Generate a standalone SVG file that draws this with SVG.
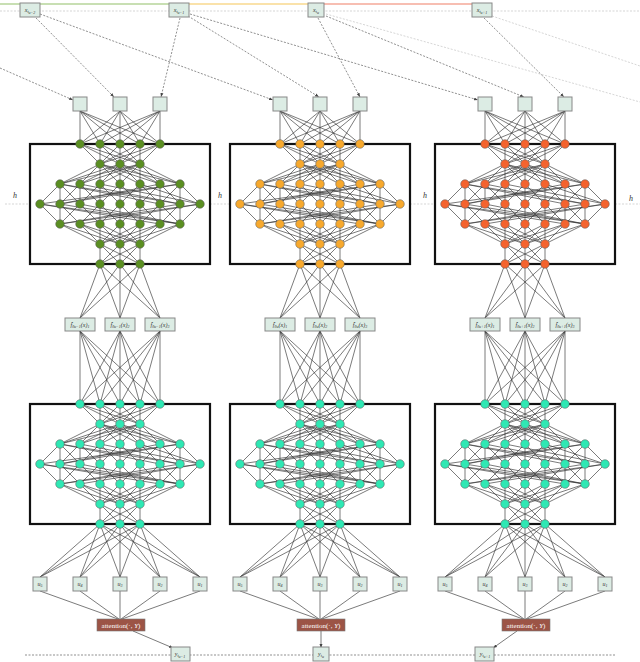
<svg xmlns="http://www.w3.org/2000/svg" xmlns:xlink="http://www.w3.org/1999/xlink" width="640" height="662" viewBox="0 0 640 662">
<style>
.e{stroke:#333;stroke-width:0.65;fill:none}
.n circle{fill:currentColor;stroke:#555;stroke-width:0.5}
.bx{fill:#dcece4;stroke:#888;stroke-width:1}
.frame{fill:none;stroke:#111;stroke-width:2.2}
.dsh{stroke:#444;stroke-width:0.6;stroke-dasharray:2,1.5;fill:none}
.lg{stroke:#bbb;stroke-width:0.6;stroke-dasharray:2,1.5;fill:none}
.t{font-family:"Liberation Serif",serif;font-style:italic;font-size:6px;fill:#333;text-anchor:middle}
.h{font-family:"Liberation Serif",serif;font-style:italic;font-size:8px;fill:#333;text-anchor:middle}
.ts{font-family:"Liberation Serif",serif;font-size:4px}
.at{font-family:"Liberation Serif",serif;font-size:7px;fill:#fff;text-anchor:middle}
</style>
<defs>
<marker id="ar" markerWidth="4" markerHeight="4" refX="4" refY="2" orient="auto" markerUnits="userSpaceOnUse"><path d="M0,0.5L4,2L0,3.5z" fill="#444"/></marker>
<g id="edges">
<path class="e" d="M80 144L100 164M80 144L120 164M80 144L140 164M100 144L100 164M100 144L120 164M100 144L140 164M120 144L100 164M120 144L120 164M120 144L140 164M140 144L100 164M140 144L120 164M140 144L140 164M160 144L100 164M160 144L120 164M160 144L140 164
M100 164L60 184M100 164L80 184M100 164L100 184M100 164L120 184M100 164L140 184M100 164L160 184M100 164L180 184M120 164L60 184M120 164L80 184M120 164L100 184M120 164L120 184M120 164L140 184M120 164L160 184M120 164L180 184M140 164L60 184M140 164L80 184M140 164L100 184M140 164L120 184M140 164L140 184M140 164L160 184M140 164L180 184
M60 184L40 204M60 184L60 224M60 184L80 204M80 184L60 204M80 184L80 204M80 184L100 204M100 184L80 204M100 184L100 204M100 184L120 204M120 184L100 204M120 184L120 204M120 184L140 204M140 184L120 204M140 184L140 204M140 184L160 204M160 184L140 204M160 184L160 204M160 184L180 204M180 184L160 204M180 184L180 224M180 184L200 204M60 184L160 204M60 184L180 204M80 184L180 204M160 184L60 204M180 184L60 204M180 184L40 204M140 184L200 204M100 184L200 204
M40 204L60 224M60 204L80 224M80 204L60 224M80 204L100 224M100 204L80 224M100 204L100 224M100 204L120 224M120 204L100 224M120 204L120 224M120 204L140 224M140 204L120 224M140 204L140 224M140 204L160 224M160 204L140 224M160 204L160 224M160 204L180 224M180 204L160 224M200 204L180 224M40 204L160 224M40 204L180 224M60 204L180 224M200 204L80 224M180 204L60 224M200 204L60 224M80 204L180 224
M60 224L100 244M60 224L120 244M80 224L100 244M80 224L120 244M80 224L140 244M100 224L100 244M100 224L120 244M100 224L140 244M120 224L100 244M120 224L120 244M120 224L140 244M140 224L100 244M140 224L120 244M140 224L140 244M160 224L100 244M160 224L120 244M160 224L140 244M180 224L120 244M180 224L140 244
M100 244L100 264M100 244L120 264M100 244L140 264M120 244L100 264M120 244L120 264M120 244L140 264M140 244L100 264M140 244L120 264M140 244L140 264"/>
</g>
<g id="nodes" class="n">
<circle cx="80" cy="144" r="4.3"/><circle cx="100" cy="144" r="4.3"/><circle cx="120" cy="144" r="4.3"/><circle cx="140" cy="144" r="4.3"/><circle cx="160" cy="144" r="4.3"/>
<circle cx="100" cy="164" r="4.3"/><circle cx="120" cy="164" r="4.3"/><circle cx="140" cy="164" r="4.3"/>
<circle cx="60" cy="184" r="4.3"/><circle cx="80" cy="184" r="4.3"/><circle cx="100" cy="184" r="4.3"/><circle cx="120" cy="184" r="4.3"/><circle cx="140" cy="184" r="4.3"/><circle cx="160" cy="184" r="4.3"/><circle cx="180" cy="184" r="4.3"/>
<circle cx="40" cy="204" r="4.3"/><circle cx="60" cy="204" r="4.3"/><circle cx="80" cy="204" r="4.3"/><circle cx="100" cy="204" r="4.3"/><circle cx="120" cy="204" r="4.3"/><circle cx="140" cy="204" r="4.3"/><circle cx="160" cy="204" r="4.3"/><circle cx="180" cy="204" r="4.3"/><circle cx="200" cy="204" r="4.3"/>
<circle cx="60" cy="224" r="4.3"/><circle cx="80" cy="224" r="4.3"/><circle cx="100" cy="224" r="4.3"/><circle cx="120" cy="224" r="4.3"/><circle cx="140" cy="224" r="4.3"/><circle cx="160" cy="224" r="4.3"/><circle cx="180" cy="224" r="4.3"/>
<circle cx="100" cy="244" r="4.3"/><circle cx="120" cy="244" r="4.3"/><circle cx="140" cy="244" r="4.3"/>
<circle cx="100" cy="264" r="4.3"/><circle cx="120" cy="264" r="4.3"/><circle cx="140" cy="264" r="4.3"/>
</g>
<g id="col">
<path class="e" d="M80 111L80 144M80 111L100 144M80 111L120 144M80 111L140 144M80 111L160 144M120 111L80 144M120 111L100 144M120 111L120 144M120 111L140 144M120 111L160 144M160 111L80 144M160 111L100 144M160 111L120 144M160 111L140 144M160 111L160 144
M100 264L80 318M100 264L120 318M100 264L160 318M120 264L80 318M120 264L120 318M120 264L160 318M140 264L80 318M140 264L120 318M140 264L160 318
M80 331L80 404M80 331L100 404M80 331L120 404M80 331L140 404M80 331L160 404M120 331L80 404M120 331L100 404M120 331L120 404M120 331L140 404M120 331L160 404M160 331L80 404M160 331L100 404M160 331L120 404M160 331L140 404M160 331L160 404
M100 524L40 577M100 524L80 577M100 524L120 577M100 524L160 577M100 524L200 577M120 524L40 577M120 524L80 577M120 524L120 577M120 524L160 577M120 524L200 577M140 524L40 577M140 524L80 577M140 524L120 577M140 524L160 577M140 524L200 577
M40 591L118 619M80 591L119 619M120 591L120 619M160 591L121 619M200 591L122 619"/>
<use href="#edges" xlink:href="#edges"/>
<use href="#edges" xlink:href="#edges" y="260"/>
<rect class="frame" x="30" y="144" width="180" height="120"/>
<rect class="frame" x="30" y="404" width="180" height="120"/>
<rect class="bx" x="73" y="97" width="14" height="14"/><rect class="bx" x="113" y="97" width="14" height="14"/><rect class="bx" x="153" y="97" width="14" height="14"/>
<rect class="bx" x="33" y="577" width="14" height="14"/><rect class="bx" x="73" y="577" width="14" height="14"/><rect class="bx" x="113" y="577" width="14" height="14"/><rect class="bx" x="153" y="577" width="14" height="14"/><rect class="bx" x="193" y="577" width="14" height="14"/>
<text class="t" x="40" y="586">u<tspan class="ts" dy="1">5</tspan></text>
<text class="t" x="80" y="586">u<tspan class="ts" dy="1">4</tspan></text>
<text class="t" x="120" y="586">u<tspan class="ts" dy="1">3</tspan></text>
<text class="t" x="160" y="586">u<tspan class="ts" dy="1">2</tspan></text>
<text class="t" x="200" y="586">u<tspan class="ts" dy="1">1</tspan></text>
<rect x="97" y="619" width="48" height="12" fill="#9c5446" stroke="#777" stroke-width="0.6"/>
<text class="at" x="121" y="628">attention(·, <tspan font-style="italic">Y</tspan>)</text>
</g>
</defs>

<g id="top-line">
<line x1="0" y1="4" x2="175" y2="4" stroke="#b6d49a" stroke-width="1.5"/>
<line x1="185" y1="4" x2="312" y2="4" stroke="#f8d98e" stroke-width="1.5"/>
<line x1="322" y1="4" x2="478" y2="4" stroke="#f4a898" stroke-width="1.5"/>
<line x1="0" y1="11" x2="640" y2="11" class="lg"/>
</g>

<g id="connectors">
<path class="dsh" marker-end="url(#ar)" d="M0 68L73 100"/>
<path class="dsh" marker-end="url(#ar)" d="M36 18L114 97"/>
<path class="dsh" marker-end="url(#ar)" d="M40 14L273 100"/>
<path class="dsh" marker-end="url(#ar)" d="M180 18L161 97"/>
<path class="dsh" marker-end="url(#ar)" d="M188 16L319 97"/>
<path class="dsh" marker-end="url(#ar)" d="M190 14L478 100"/>
<path class="dsh" marker-end="url(#ar)" d="M318 18L360 97"/>
<path class="dsh" marker-end="url(#ar)" d="M326 16L524 97"/>
<path class="dsh" marker-end="url(#ar)" d="M484 18L564 97"/>
<path class="lg" d="M326 14L640 102"/>
<path class="lg" d="M492 16L640 66"/>
<path class="lg" d="M5 204L30 204M210 204L230 204M410 204L435 204M615 204L640 204"/>
<path class="dsh" d="M25 655L615 655"/>
<path class="e" marker-end="url(#ar)" d="M133 631L173 648"/>
<path class="e" marker-end="url(#ar)" d="M321 631L321 648"/>
<path class="e" marker-end="url(#ar)" d="M517 631L493 648"/>
</g>

<g id="col1"><use href="#col" xlink:href="#col"/><use href="#nodes" xlink:href="#nodes" color="#5b8f22"/><use href="#nodes" xlink:href="#nodes" y="260" color="#2fe8b4"/></g>
<g id="col2" transform="translate(200,0)"><use href="#col" xlink:href="#col"/><use href="#nodes" xlink:href="#nodes" color="#f7a92e"/><use href="#nodes" xlink:href="#nodes" y="260" color="#2fe8b4"/></g>
<g id="col3" transform="translate(405,0)"><use href="#col" xlink:href="#col"/><use href="#nodes" xlink:href="#nodes" color="#f4632e"/><use href="#nodes" xlink:href="#nodes" y="260" color="#2fe8b4"/></g>

<g id="xnodes">
<rect class="bx" x="20" y="3" width="20" height="14"/><text class="t" x="30" y="12">x<tspan class="ts" dy="1">t<tspan dy="1">u−2</tspan></tspan></text>
<rect class="bx" x="169" y="3" width="20" height="14"/><text class="t" x="179" y="12">x<tspan class="ts" dy="1">t<tspan dy="1">u−1</tspan></tspan></text>
<rect class="bx" x="308" y="3" width="16" height="14"/><text class="t" x="316" y="12">x<tspan class="ts" dy="1">t<tspan dy="1">u</tspan></tspan></text>
<rect class="bx" x="472" y="3" width="20" height="14"/><text class="t" x="482" y="12">x<tspan class="ts" dy="1">t<tspan dy="1">u+1</tspan></tspan></text>
</g>

<g id="fnodes">
<rect class="bx" x="65" y="318" width="30" height="13"/><text class="t" x="80" y="327">f̂<tspan class="ts" dy="1">θu−1</tspan><tspan dy="-1">(x)</tspan><tspan class="ts" dy="1">1</tspan></text>
<rect class="bx" x="105" y="318" width="30" height="13"/><text class="t" x="120" y="327">f̂<tspan class="ts" dy="1">θu−1</tspan><tspan dy="-1">(x)</tspan><tspan class="ts" dy="1">2</tspan></text>
<rect class="bx" x="145" y="318" width="30" height="13"/><text class="t" x="160" y="327">f̂<tspan class="ts" dy="1">θu−1</tspan><tspan dy="-1">(x)</tspan><tspan class="ts" dy="1">3</tspan></text>
<rect class="bx" x="265" y="318" width="30" height="13"/><text class="t" x="280" y="327">f̂<tspan class="ts" dy="1">θu</tspan><tspan dy="-1">(x)</tspan><tspan class="ts" dy="1">1</tspan></text>
<rect class="bx" x="305" y="318" width="30" height="13"/><text class="t" x="320" y="327">f̂<tspan class="ts" dy="1">θu</tspan><tspan dy="-1">(x)</tspan><tspan class="ts" dy="1">2</tspan></text>
<rect class="bx" x="345" y="318" width="30" height="13"/><text class="t" x="360" y="327">f̂<tspan class="ts" dy="1">θu</tspan><tspan dy="-1">(x)</tspan><tspan class="ts" dy="1">3</tspan></text>
<rect class="bx" x="470" y="318" width="30" height="13"/><text class="t" x="485" y="327">f̂<tspan class="ts" dy="1">θu+1</tspan><tspan dy="-1">(x)</tspan><tspan class="ts" dy="1">1</tspan></text>
<rect class="bx" x="510" y="318" width="30" height="13"/><text class="t" x="525" y="327">f̂<tspan class="ts" dy="1">θu+1</tspan><tspan dy="-1">(x)</tspan><tspan class="ts" dy="1">2</tspan></text>
<rect class="bx" x="550" y="318" width="30" height="13"/><text class="t" x="565" y="327">f̂<tspan class="ts" dy="1">θu+1</tspan><tspan dy="-1">(x)</tspan><tspan class="ts" dy="1">3</tspan></text>
</g>

<g id="ynodes">
<rect class="bx" x="171" y="647" width="19" height="14"/><text class="t" x="180" y="656">y<tspan class="ts" dy="1">t<tspan dy="1">u−1</tspan></tspan></text>
<rect class="bx" x="313" y="647" width="16" height="14"/><text class="t" x="321" y="656">y<tspan class="ts" dy="1">t<tspan dy="1">u</tspan></tspan></text>
<rect class="bx" x="475" y="647" width="19" height="14"/><text class="t" x="485" y="656">y<tspan class="ts" dy="1">t<tspan dy="1">u+1</tspan></tspan></text>
</g>

<g id="hlabels">
<text class="h" x="15" y="198">h</text>
<text class="h" x="220" y="198">h</text>
<text class="h" x="425" y="198">h</text>
<text class="h" x="631" y="201">h</text>
</g>
</svg>
